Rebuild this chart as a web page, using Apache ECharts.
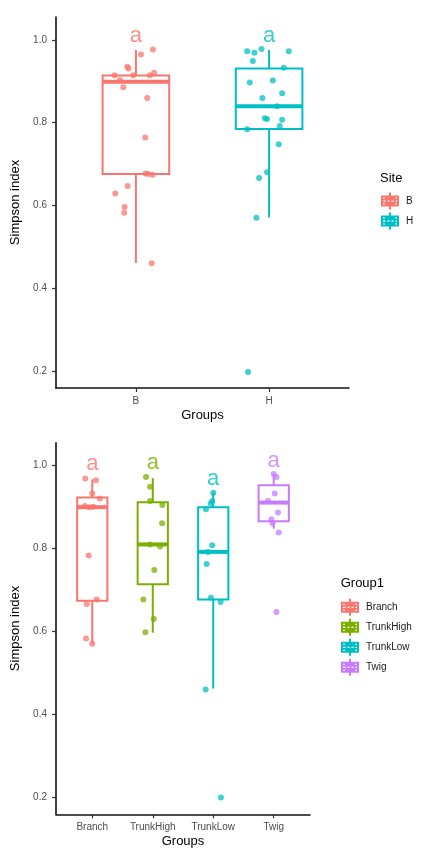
<!DOCTYPE html>
<html>
<head>
<meta charset="utf-8">
<script src="https://cdn.jsdelivr.net/npm/echarts@6/dist/echarts.min.js"></script>
<style>
  html, body { margin: 0; padding: 0; background: #fff; }
  #chart { width: 429px; height: 855px; }
</style>
</head>
<body>
<div id="chart"></div>
<script>
// ---- Site panel ----
const siteNames = ['B', 'H'];
const siteColors = ['#F8766D', '#00BFC4'];
// box statistics: [lower whisker, Q1, median, Q3, upper whisker]
const siteBoxes = [
  [0.461, 0.676, 0.899, 0.914, 0.976],
  [0.571, 0.785, 0.840, 0.931, 0.976]
];
const siteB = [0.977, 0.965, 0.935, 0.931, 0.915, 0.915, 0.921, 0.915, 0.903, 0.886,
               0.860, 0.764, 0.677, 0.676, 0.674, 0.647, 0.629, 0.596, 0.582, 0.460];
const siteBJitter = [0.128, 0.038, -0.065, -0.055, -0.160, -0.020, 0.137, 0.105, -0.120, -0.095,
                     0.085, 0.070, 0.073, 0.092, 0.125, -0.062, -0.155, -0.085, -0.088, 0.118];
const siteH = [0.973, 0.969, 0.978, 0.973, 0.949, 0.933, 0.897, 0.902, 0.871, 0.860, 0.840,
               0.811, 0.809, 0.807, 0.792, 0.784, 0.748, 0.680, 0.666, 0.570, 0.197];
const siteHJitter = [-0.165, -0.110, -0.057, 0.148, -0.122, 0.110, -0.145, 0.028, 0.098, -0.050, 0.060,
                     -0.032, -0.015, 0.098, 0.080, -0.165, 0.073, -0.015, -0.075, -0.095, -0.158];
const siteLetters = ['a', 'a'];
const siteLetterY = [1.011, 1.011];

// ---- Group1 panel ----
const groupNames = ['Branch', 'TrunkHigh', 'TrunkLow', 'Twig'];
const groupColors = ['#F8766D', '#7CAE00', '#00BFC4', '#C77CFF'];
const groupBoxes = [
  [0.571, 0.674, 0.900, 0.923, 0.967],
  [0.597, 0.714, 0.810, 0.912, 0.970],
  [0.462, 0.677, 0.792, 0.900, 0.935],
  [0.848, 0.866, 0.911, 0.953, 0.980]
];
const branch = [0.969, 0.965, 0.933, 0.921, 0.903, 0.900, 0.901, 0.783, 0.666, 0.677, 0.583, 0.570];
const branchJitter = [-0.116, 0.061, 0, 0.124, -0.121, -0.050, 0.017, -0.060, -0.093, 0.073, -0.104, 0];
const trunkHigh = [0.973, 0.949, 0.915, 0.905, 0.861, 0.810, 0.805, 0.748, 0.677, 0.630, 0.598];
const trunkHighJitter = [-0.111, -0.045, -0.045, 0.159, 0.154, -0.045, 0.121, 0.026, -0.155, 0.017, -0.122];
const trunkLow = [0.935, 0.915, 0.909, 0.895, 0.808, 0.792, 0.763, 0.681, 0.671, 0.460, 0.199];
const trunkLowJitter = [0, -0.017, -0.043, -0.121, -0.017, -0.083, -0.109, -0.038, 0.122, -0.126, 0.127];
const twig = [0.980, 0.973, 0.933, 0.915, 0.887, 0.871, 0.861, 0.839, 0.647];
const twigJitter = [0, 0.045, 0.017, -0.094, 0.071, -0.038, -0.021, 0.083, 0.045];
const groupLetters = ['a', 'a', 'a', 'a'];
const groupLetterY = [1.004, 1.007, 0.969, 1.012];

const yTicks = [0.2, 0.4, 0.6, 0.8, 1.0];

const FONT = 'Liberation Sans, Arial, sans-serif';
const BOX_HALF = 0.25;

// legend key: boxplot glyph with whisker stubs and a dashed white middle
const KEY_ICON = 'path://M8,0L10,0L10,3L8,3Z' +
  'M0,3L18,3L18,14L0,14Z' +
  'M8,14L10,14L10,17L8,17Z' +
  'M2,8L2,9.2L4.5,9.2L4.5,8Z M6.5,8L6.5,9.2L8.5,9.2L8.5,8Z M10.5,8L10.5,9.2L12.5,9.2L12.5,8Z M14.5,8L14.5,9.2L16,9.2L16,8Z' +
  'M2,5L2,6L4,6L4,5Z M14,5L14,6L16,6L16,5Z M2,11L2,12L4,12L4,11Z M14,11L14,12L16,12L16,11Z';

function renderBox(params, api) {
  const x = api.value(0);
  const lo = api.value(1), q1 = api.value(2), med = api.value(3), q3 = api.value(4), hi = api.value(5);
  const color = api.visual('color');
  const tl = api.coord([x - BOX_HALF, q3]);
  const br = api.coord([x + BOX_HALF, q1]);
  const mL = api.coord([x - BOX_HALF, med]);
  const mR = api.coord([x + BOX_HALF, med]);
  const top = api.coord([x, hi]);
  const bot = api.coord([x, lo]);
  const stroke = { stroke: color, lineWidth: 2, fill: null };
  return {
    type: 'group',
    children: [
      { type: 'line', shape: { x1: top[0], y1: top[1], x2: top[0], y2: tl[1] }, style: stroke },
      { type: 'line', shape: { x1: bot[0], y1: bot[1], x2: bot[0], y2: br[1] }, style: stroke },
      { type: 'rect', shape: { x: tl[0], y: tl[1], width: br[0] - tl[0], height: br[1] - tl[1] },
        style: { stroke: color, lineWidth: 2, fill: 'rgba(0,0,0,0)' } },
      { type: 'line', shape: { x1: mL[0], y1: mL[1], x2: mR[0], y2: mR[1] },
        style: { stroke: color, lineWidth: 4 } }
    ]
  };
}

function boxSeries(name, color, idx, stats, axisIdx) {
  return {
    name: name,
    type: 'custom',
    xAxisIndex: axisIdx,
    yAxisIndex: axisIdx,
    renderItem: renderBox,
    itemStyle: { color: color },
    encode: { x: 0, y: [1, 2, 3, 4, 5] },
    data: [[idx + 1].concat(stats)],
    z: 2
  };
}

function pointSeries(name, color, idx, values, jitter, axisIdx) {
  return {
    name: name,
    type: 'scatter',
    xAxisIndex: axisIdx,
    yAxisIndex: axisIdx,
    symbol: 'circle',
    symbolSize: 6,
    itemStyle: { color: color, opacity: 0.75 },
    emphasis: { disabled: true },
    data: values.map((v, i) => [idx + 1 + jitter[i], v]),
    z: 3
  };
}

function letterSeries(letters, ys, colors, axisIdx) {
  return {
    type: 'scatter',
    xAxisIndex: axisIdx,
    yAxisIndex: axisIdx,
    symbolSize: 0,
    silent: true,
    data: letters.map((t, i) => ({
      name: t,
      value: [i + 1, ys[i]],
      label: {
        show: true,
        position: 'inside',
        formatter: '{b}',
        color: colors[i],
        fontSize: 22,
        fontFamily: FONT
      }
    })),
    z: 4
  };
}

function xAxisFor(gridIdx, names) {
  const ticks = names.map((_, i) => i + 1);
  return {
    type: 'value',
    gridIndex: gridIdx,
    min: 0.4,
    max: names.length + 0.6,
    name: 'Groups',
    nameLocation: 'middle',
    nameGap: 21,
    nameTextStyle: { fontSize: 13, color: '#000', fontFamily: FONT },
    axisLine: { show: true, lineStyle: { color: '#111', width: 1.6 } },
    axisTick: { show: true, customValues: ticks, length: 4, lineStyle: { color: '#333', width: 1.2 } },
    axisLabel: {
      customValues: ticks,
      formatter: (v) => names[Math.round(v) - 1] || '',
      margin: 8,
      fontSize: 10,
      color: '#4D4D4D',
      fontFamily: FONT
    },
    splitLine: { show: false }
  };
}

function yAxisFor(gridIdx) {
  return {
    type: 'value',
    gridIndex: gridIdx,
    min: 0.1584,
    max: 1.0556,
    name: 'Simpson index',
    nameLocation: 'middle',
    nameGap: 28,
    nameTextStyle: { fontSize: 13, color: '#000', fontFamily: FONT },
    axisLine: { show: true, lineStyle: { color: '#111', width: 1.6 } },
    axisTick: { show: true, customValues: yTicks, length: 4, lineStyle: { color: '#333', width: 1.2 } },
    axisLabel: {
      customValues: yTicks,
      formatter: (v) => v.toFixed(1),
      margin: 9,
      fontSize: 10,
      color: '#4D4D4D',
      fontFamily: FONT
    },
    splitLine: { show: false }
  };
}

const series = [];
siteNames.forEach((n, i) => series.push(boxSeries(n, siteColors[i], i, siteBoxes[i], 0)));
series.push(pointSeries('B', siteColors[0], 0, siteB, siteBJitter, 0));
series.push(pointSeries('H', siteColors[1], 1, siteH, siteHJitter, 0));
series.push(letterSeries(siteLetters, siteLetterY, siteColors, 0));

groupNames.forEach((n, i) => series.push(boxSeries(n, groupColors[i], i, groupBoxes[i], 1)));
series.push(pointSeries('Branch', groupColors[0], 0, branch, branchJitter, 1));
series.push(pointSeries('TrunkHigh', groupColors[1], 1, trunkHigh, trunkHighJitter, 1));
series.push(pointSeries('TrunkLow', groupColors[2], 2, trunkLow, trunkLowJitter, 1));
series.push(pointSeries('Twig', groupColors[3], 3, twig, twigJitter, 1));
series.push(letterSeries(groupLetters, groupLetterY, groupColors, 1));

const legendBase = {
  orient: 'vertical',
  icon: KEY_ICON,
  itemWidth: 18,
  itemHeight: 17,
  itemGap: 3,
  padding: 0,
  selectedMode: false,
  itemStyle: { borderWidth: 0, opacity: 1 },
  textStyle: { fontSize: 10, color: '#1a1a1a', fontFamily: FONT, padding: [0, 0, 0, 2] }
};

const option = {
  backgroundColor: '#ffffff',
  animation: false,
  grid: [
    { left: 56, right: 80, top: 17, bottom: 467, outerBoundsMode: 'none', containLabel: false },
    { left: 56, right: 119, top: 442.7, bottom: 40.7, outerBoundsMode: 'none', containLabel: false }
  ],
  xAxis: [xAxisFor(0, siteNames), xAxisFor(1, groupNames)],
  yAxis: [yAxisFor(0), yAxisFor(1)],
  legend: [
    Object.assign({}, legendBase, { data: siteNames, left: 381, top: 192.5 }),
    Object.assign({}, legendBase, { data: groupNames, left: 341, top: 598.8 })
  ],
  graphic: [
    { type: 'text', left: 380, top: 172, style: { text: 'Site', fontSize: 13, fill: '#000', fontFamily: FONT } },
    { type: 'text', left: 340.7, top: 577, style: { text: 'Group1', fontSize: 13, fill: '#000', fontFamily: FONT } }
  ],
  series: series
};

const chart = echarts.init(document.getElementById('chart'), null, { renderer: 'canvas' });
chart.setOption(option);
</script>
</body>
</html>
